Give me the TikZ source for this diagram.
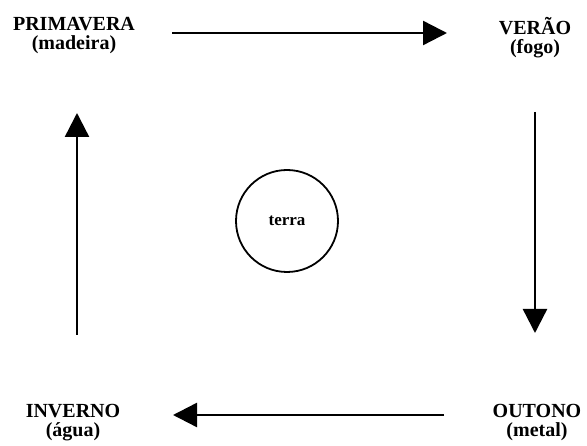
\documentclass[tikz,border=0pt]{standalone}
\usepackage{fontspec}
\setmainfont{Liberation Serif}
\usetikzlibrary{arrows.meta,positioning}
\tikzset{estacao/.style={align=center,inner sep=0pt,font=\bfseries\fontsize{20}{19}\selectfont},
         seta/.style={line width=2.4pt,-{Triangle[length=24pt,width=24pt]}}}

\begin{document}
\begin{tikzpicture}[x=1pt,y=-1pt]
    \useasboundingbox (0,0) rectangle (587,446);
    % as quatro estacoes
    \node[estacao] (primavera) at (74,36) {PRIMAVERA\\(madeira)};
    \node[estacao] (verao) at (535,37.5) {VERÃO\\(fogo)};
    \node[estacao] (outono) at (537,423) {OUTONO\\(metal)};
    \node[estacao] (inverno) at (73,423) {INVERNO\\(água)};
    % centro
    \node[draw,circle,line width=1.8pt,minimum size=102pt,inner sep=0pt,
          font=\bfseries\fontsize{17}{19}\selectfont] (terra) at (287,221) {terra};
    % ciclo
    \draw[seta,shorten <=98pt,shorten >=88pt] ([yshift=3pt]primavera.center) -- ([yshift=3pt]primavera.center -| verao.center);
    \draw[seta,shorten <=74.5pt,shorten >=90pt] (verao.center) -- (verao.center |- outono.center);
    \draw[seta,shorten <=93pt,shorten >=100pt] ([yshift=8pt]outono.center) -- ([yshift=8pt]outono.center -| inverno.center);
    \draw[seta,shorten <=88pt,shorten >=77pt] ([xshift=4pt]inverno.center) -- ([xshift=4pt]inverno.center |- primavera.center);
\end{tikzpicture}
\end{document}
